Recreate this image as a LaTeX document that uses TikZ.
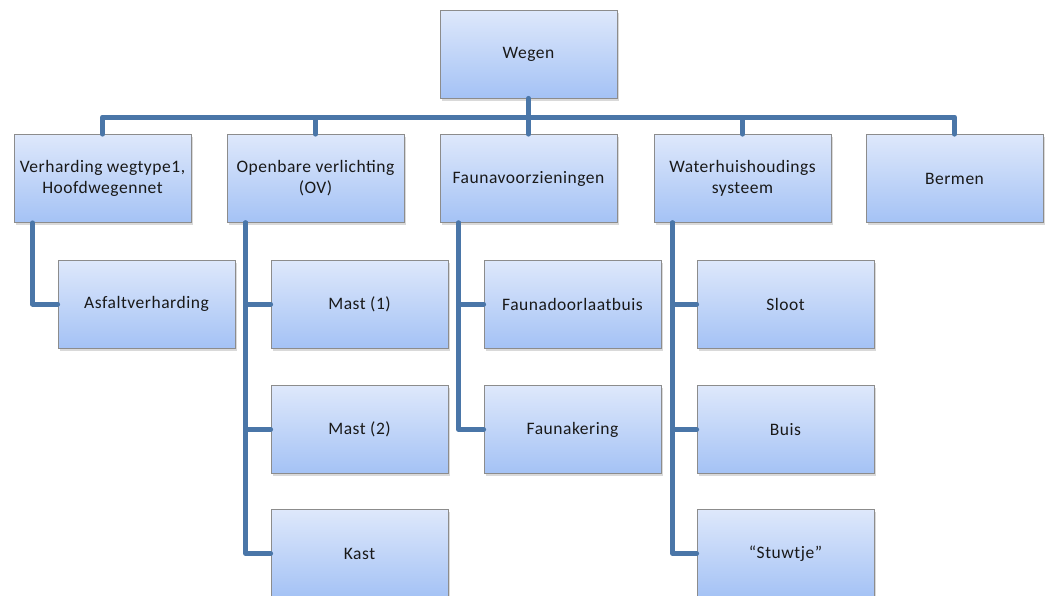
\documentclass[tikz,border=0pt]{standalone}
\usepackage{fontspec}
\setmainfont{Carlito}[LetterSpace=3]
\usetikzlibrary{shadows}

\begin{document}
\begin{tikzpicture}[x=1pt,y=1pt,
    wbox/.style={shape=rectangle,draw=wegen_border,line width=0.8pt,top color=wegen_top,bottom color=wegen_bottom,
        minimum width=177pt,minimum height=88pt,align=center,text=wegen_text,
        font=\fontsize{17.5}{21}\selectfont,
        drop shadow={opacity=0.3,shadow xshift=2pt,shadow yshift=-2.5pt}},
    conn/.style={draw=wegen_line,line width=5pt,line cap=round,line join=round}]
    \definecolor{wegen_top}{RGB}{222,232,251}
    \definecolor{wegen_bottom}{RGB}{164,194,245}
    \definecolor{wegen_border}{RGB}{140,140,140}
    \definecolor{wegen_line}{RGB}{74,118,168}
    \definecolor{wegen_text}{RGB}{25,25,25}
    \useasboundingbox (0,0) rectangle (1048,-595);
    \node[wbox] (wegen) at (528.5,-54) {Wegen};
    \node[wbox] (verh) at (102.5,-178.5) {Verharding wegtype1,\\Hoofdwegennet};
    \node[wbox] (ov) at (315.5,-178.5) {Openbare verlichting\\(OV)};
    \node[wbox] (fauna) at (528.5,-178.5) {Faunavoorzieningen};
    \node[wbox] (water) at (742.5,-178.5) {Waterhuishoudings\\systeem};
    \node[wbox] (bermen) at (954.5,-178.5) {Bermen};
    \node[wbox] (asfalt) at (146.5,-304) {Asfaltverharding};
    \node[wbox] (mast1) at (359.5,-304) {Mast (1)};
    \node[wbox] (mast2) at (359.5,-429.5) {Mast (2)};
    \node[wbox] (kast) at (359.5,-553.5) {Kast};
    \node[wbox] (doorlaat) at (572.5,-304) {Faunadoorlaatbuis};
    \node[wbox] (kering) at (572.5,-429.5) {Faunakering};
    \node[wbox] (sloot) at (785.5,-304) {Sloot};
    \node[wbox] (buis) at (785.5,-429.5) {Buis};
    \node[wbox] (stuw) at (785.5,-553.5) {``Stuwtje''};
    \coordinate (bus) at (528.5,-117);
    \draw[conn] (wegen.south) -- (bus);
    \foreach \n in {verh,ov,fauna,water,bermen}
        \draw[conn] (bus) -| (\n.north);
    \draw[conn] ([xshift=19pt]verh.south west) |- (asfalt.west);
    \foreach \n in {mast1,mast2,kast}
        \draw[conn] ([xshift=19pt]ov.south west) |- (\n.west);
    \foreach \n in {doorlaat,kering}
        \draw[conn] ([xshift=19pt]fauna.south west) |- (\n.west);
    \foreach \n in {sloot,buis,stuw}
        \draw[conn] ([xshift=19pt]water.south west) |- (\n.west);
\end{tikzpicture}
\end{document}
